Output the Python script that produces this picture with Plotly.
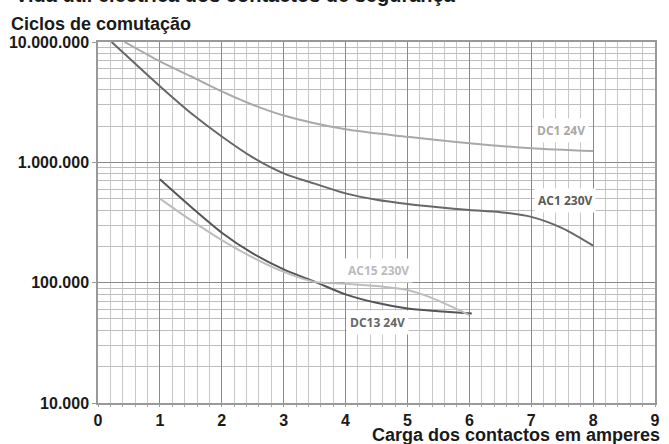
import plotly.graph_objects as go

# ---------------- data ----------------
dc1_x = [0.43, 1, 1.5, 2, 2.5, 3, 4, 5, 6, 7, 8]
dc1_y = [10e6, 6.9e6, 5.19e6, 3.89e6, 3.01e6, 2.45e6, 1.88e6, 1.63e6, 1.44e6, 1.31e6, 1.24e6]

ac1_x = [0.22, 0.59, 1, 1.5, 2, 2.5, 3, 3.5, 4, 4.5, 5, 5.5, 6, 6.5, 7, 7.5, 8]
ac1_y = [10e6, 6.68e6, 4.29e6, 2.57e6, 1.64e6, 1.1e6, 810e3, 665e3, 552e3, 488e3,
         450e3, 423e3, 401e3, 385e3, 352e3, 284e3, 203e3]

dc13_x = [1, 1.5, 2, 2.5, 3, 3.5, 4, 4.5, 5, 5.5, 6.04]
dc13_y = [722e3, 427e3, 260e3, 175e3, 129e3, 102e3, 80e3, 68e3, 61e3, 58e3, 55.5e3]

ac15_x = [1, 1.5, 2, 2.5, 3, 3.5, 4, 4.5, 5, 5.24, 5.5, 5.75, 6]
ac15_y = [500e3, 331e3, 226e3, 162e3, 123e3, 101.5e3, 98e3, 93.8e3, 87e3, 80e3, 71e3, 62e3, 53.7e3]

y_tickvals = [1e4, 1e5, 1e6, 1e7]
y_ticktext = ["10.000", "100.000", "1.000.000", "10.000.000"]
x_tickvals = list(range(0, 10))

series = [
    ("DC1 24V", dc1_x, dc1_y, "#a9a9a9"),
    ("AC1 230V", ac1_x, ac1_y, "#676767"),
    ("DC13 24V", dc13_x, dc13_y, "#555555"),
    ("AC15 230V", ac15_x, ac15_y, "#bdbdbd"),
]

# label positions (x in data, y as log10)
labels = [
    ("DC1 24V", 7.48, 6.268, "#a8a8a8"),
    ("AC1 230V", 7.55, 5.681, "#5a5a5a"),
    ("AC15 230V", 4.53, 5.099, "#bbbbbb"),
    ("DC13 24V", 4.51, 4.67, "#666666"),
]

fig = go.Figure()
for name, xs, ys, col in series:
    fig.add_trace(go.Scatter(x=xs, y=ys, mode="lines", name=name,
                             line=dict(color=col, width=2, shape="spline", smoothing=0.8),
                             showlegend=False, hoverinfo="skip"))

for txt, x, y, col in labels:
    fig.add_annotation(x=x, y=y, xref="x", yref="y", text="<b>%s</b>" % txt,
                       showarrow=False, bgcolor="white", borderpad=3,
                       font=dict(family="Open Sans", size=12, color=col))

tick_font = dict(family="Liberation Sans, Arial", size=16, color="#1a1a1a", weight="bold")

fig.update_xaxes(range=[0, 9], tickvals=x_tickvals, ticktext=[str(v) for v in x_tickvals],
                 showgrid=True, gridcolor="#8a8a8a", gridwidth=1,
                 minor=dict(dtick=0.2, showgrid=True, gridcolor="#c8c8c8", gridwidth=1,
                            ticks="outside", ticklen=2, tickcolor="#aaaaaa"),
                 showline=True, linecolor="#999999", linewidth=1.5, mirror=True,
                 ticks="outside", ticklen=2, tickcolor="#999999",
                 tickfont=tick_font, zeroline=False)
fig.update_yaxes(type="log", range=[4, 7], tickvals=y_tickvals, ticktext=y_ticktext,
                 showgrid=True, gridcolor="#8a8a8a", gridwidth=1,
                 minor=dict(dtick="D1", showgrid=True, gridcolor="#bdbdbd", gridwidth=1),
                 showline=True, linecolor="#999999", linewidth=1.5, mirror=True,
                 ticks="outside", ticklen=4, tickcolor="#999999",
                 tickfont=tick_font, zeroline=False)

title_font = dict(family="Liberation Sans, Arial", size=18, color="#1a1a1a")
fig.add_annotation(xref="paper", yref="paper", x=(8 - 98) / 562, y=1 + (42 - 24) / 361,
                   xanchor="left", yanchor="middle", showarrow=False,
                   text="<b>Ciclos de comutação</b>", font=title_font)
fig.add_annotation(xref="paper", yref="paper", x=1 + (667 - 660) / 562, y=-(434.5 - 403) / 361,
                   xanchor="right", yanchor="middle", showarrow=False,
                   text="<b>Carga dos contactos em amperes</b>", font=title_font)
fig.add_annotation(xref="paper", yref="paper", x=(12 - 98) / 562, y=1 + (42 - 8) / 361,
                   xanchor="left", yanchor="bottom", showarrow=False,
                   text="<b>Vida útil eléctrica dos contactos de segurança</b>",
                   font=dict(family="Liberation Sans, Arial", size=20, color="#1a1a1a"))

fig.update_layout(width=669, height=444, margin=dict(l=98, r=9, t=42, b=41),
                  paper_bgcolor="white", plot_bgcolor="white")

fig.write_html("out.html", config={"displayModeBar": False},
               post_script="document.body.style.margin='0';")
